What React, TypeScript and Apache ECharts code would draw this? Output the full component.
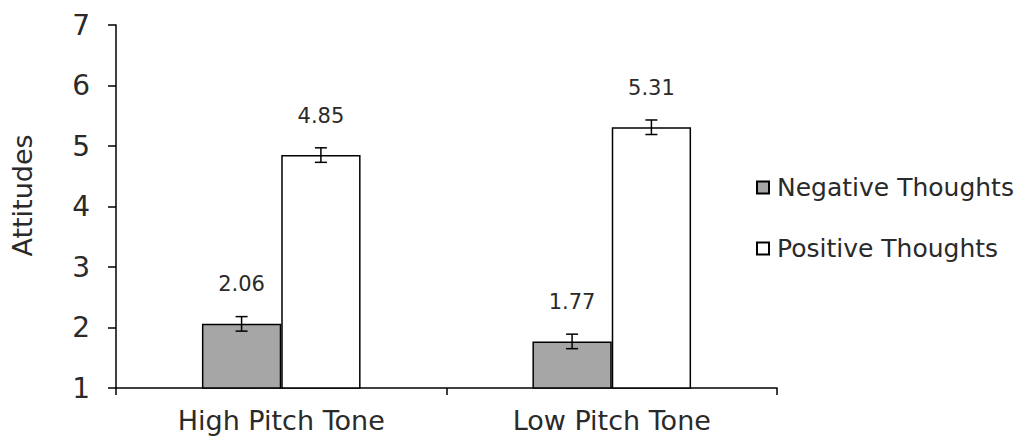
import React, { useEffect, useRef } from "react";
import * as echarts from "echarts";

const categories = ["High Pitch Tone", "Low Pitch Tone"];
const seriesNames = ["Negative Thoughts", "Positive Thoughts"];
const negativeValues = [2.06, 1.77];
const positiveValues = [4.85, 5.31];
const negativeErrors = [0.12, 0.12];
const positiveErrors = [0.12, 0.12];
const yTicks = [1, 2, 3, 4, 5, 6, 7];

const FONT = "DejaVu Sans";
const BAR_FRAC = 0.24;

export default function App() {
  const ref = useRef<HTMLDivElement>(null);
  useEffect(() => {
    if (!ref.current) return;
    const chart = echarts.init(ref.current, undefined, { renderer: "svg" });

    const errSeries = (values: number[], errs: number[], side: number) => ({
      type: "custom",
      z: 10,
      silent: true,
      data: values.map((v, i) => [i, v, errs[i]]),
      renderItem: (params: any, api: any) => {
        const idx = api.value(0);
        const v = api.value(1);
        const e = api.value(2);
        const catW = api.size([1, 0])[0];
        const bw = catW * BAR_FRAC;
        const c = api.coord([idx, v]);
        const x = c[0] + (side * bw) / 2;
        const top = api.coord([idx, v + e])[1];
        const bot = api.coord([idx, v - e])[1];
        const cap = 6;
        const st = { stroke: "#000", lineWidth: 1.5 };
        return {
          type: "group",
          children: [
            { type: "line", shape: { x1: x, y1: top, x2: x, y2: bot }, style: st },
            { type: "line", shape: { x1: x - cap, y1: top, x2: x + cap, y2: top }, style: st },
            { type: "line", shape: { x1: x - cap, y1: bot, x2: x + cap, y2: bot }, style: st },
          ],
        };
      },
    });

    const label = {
      show: true,
      position: "top",
      distance: 29,
      fontFamily: FONT,
      fontSize: 21,
      color: "#2a2a2a",
      formatter: (p: any) => Number(p.value).toFixed(2),
    };

    chart.setOption({
      animation: false,
      backgroundColor: "#fff",
      grid: { left: 116, right: 242, top: 25, bottom: 53 },
      legend: {
        orient: "vertical",
        left: 751,
        top: 170,
        itemGap: 36,
        itemWidth: 12,
        itemHeight: 12,
        data: seriesNames.map((n) => ({ name: n, icon: "rect" })),
        textStyle: { fontFamily: FONT, fontSize: 25, color: "#2a2a2a", padding: [0, 0, 0, 3] },
      },
      xAxis: {
        type: "category",
        data: categories,
        axisLine: { lineStyle: { color: "#000", width: 1.5 } },
        axisTick: { show: true, length: 7, lineStyle: { color: "#000", width: 1.5 } },
        axisLabel: { fontFamily: FONT, fontSize: 27, color: "#2a2a2a", margin: 19 },
      },
      yAxis: {
        type: "value",
        min: 1,
        max: 7,
        interval: 1,
        name: "Attitudes",
        nameLocation: "middle",
        nameGap: 80,
        nameTextStyle: { fontFamily: FONT, fontSize: 27, color: "#2a2a2a", padding: [0, 0, 0, 22] },
        splitLine: { show: false },
        axisLine: { show: true, lineStyle: { color: "#000", width: 1.5 } },
        axisTick: { show: true, length: 8, lineStyle: { color: "#000", width: 1.5 } },
        axisLabel: {
          fontFamily: FONT,
          fontSize: 28,
          color: "#2a2a2a",
          margin: 26,
          formatter: (v: number) => (yTicks.includes(v) ? String(v) : ""),
        },
      },
      series: [
        {
          name: seriesNames[0],
          type: "bar",
          data: negativeValues,
          barWidth: BAR_FRAC * 100 + "%",
          barGap: "0%",
          itemStyle: { color: "#a6a6a6", borderColor: "#000", borderWidth: 1.5 },
          label,
        },
        {
          name: seriesNames[1],
          type: "bar",
          data: positiveValues,
          barWidth: BAR_FRAC * 100 + "%",
          barGap: "0%",
          itemStyle: { color: "#fff", borderColor: "#000", borderWidth: 1.5 },
          label,
        },
        errSeries(negativeValues, negativeErrors, -1),
        errSeries(positiveValues, positiveErrors, 1),
      ],
    });
    return () => chart.dispose();
  }, []);
  return <div ref={ref} style={{ width: 1019, height: 441, position: "absolute", left: 0, top: 0 }} />;
}
